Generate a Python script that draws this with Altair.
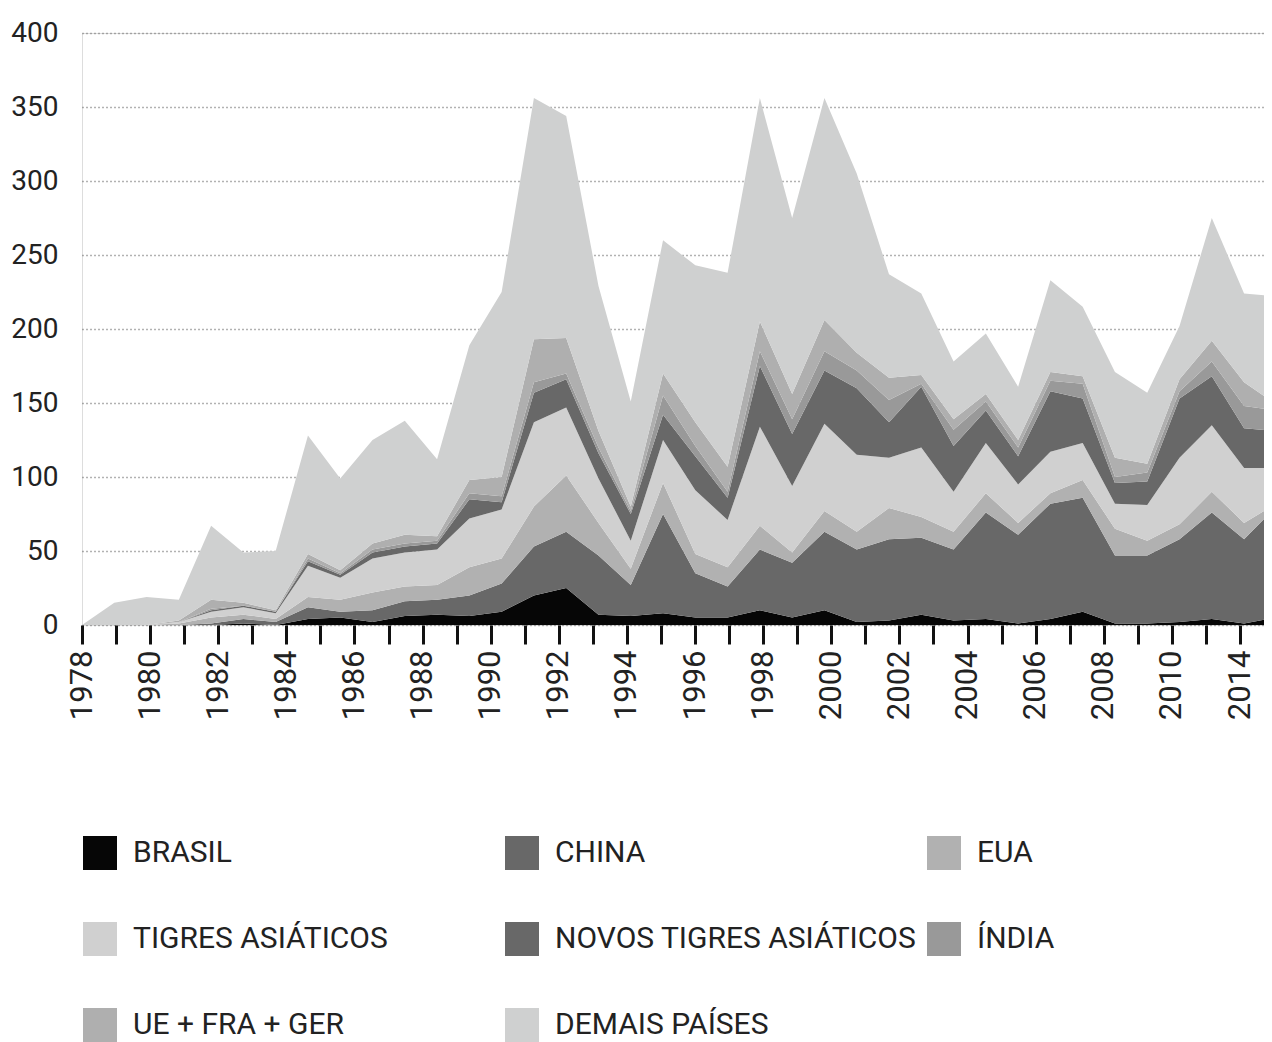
import altair as alt
import pandas as pd

years = list(range(1978, 2016))

series_names = ["BRASIL", "CHINA", "EUA", "TIGRES ASIÁTICOS",
                "NOVOS TIGRES ASIÁTICOS", "ÍNDIA", "UE + FRA + GER", "DEMAIS PAÍSES"]
series_colors = ["#060606", "#686868", "#b1b1b1", "#d0d0d0",
                 "#686868", "#999999", "#afafaf", "#cfd0d0"]

brasil = [0, 0, 0, 0, 0, 1, 0, 4, 5, 2, 6, 7, 6, 9, 20, 25, 7, 6, 8, 5, 5, 10, 5, 10,
          2, 3, 7, 3, 4, 1, 4, 9, 1, 1, 2, 4, 1, 5]
china = [0, 0, 0, 0, 1, 3, 2, 8, 4, 8, 10, 10, 14, 19, 33, 38, 40, 21, 67, 30, 21, 41, 37, 53,
         49, 55, 52, 48, 72, 60, 78, 77, 46, 46, 56, 72, 57, 75]
eua = [0, 0, 0, 1, 4, 3, 2, 7, 8, 12, 10, 10, 19, 17, 27, 38, 22, 11, 21, 13, 13, 16, 7, 14,
       12, 21, 14, 12, 13, 8, 7, 12, 18, 10, 10, 14, 11, 2]
tigres = [0, 0, 0, 1, 4, 5, 4, 21, 15, 23, 23, 24, 33, 33, 57, 46, 30, 19, 29, 43, 32, 67, 45, 59,
          52, 34, 47, 27, 34, 26, 28, 25, 17, 24, 45, 45, 37, 24]
novos_tigres = [0, 0, 0, 0, 1, 1, 1, 3, 2, 4, 4, 4, 13, 5, 20, 19, 17, 18, 17, 23, 15, 41, 35, 36,
                45, 24, 41, 31, 22, 19, 41, 30, 14, 16, 40, 33, 27, 25]
india = [0, 0, 0, 0, 1, 0, 0, 2, 1, 2, 2, 2, 4, 4, 7, 4, 4, 2, 13, 7, 4, 10, 10, 13,
         12, 15, 2, 11, 6, 6, 7, 10, 4, 6, 5, 10, 15, 14]
ue_fra_ger = [0, 0, 0, 1, 6, 2, 1, 3, 2, 4, 6, 3, 9, 13, 29, 24, 11, 3, 15, 16, 17, 20, 17, 21,
              12, 15, 6, 7, 5, 5, 6, 5, 13, 6, 8, 14, 16, 4]
demais = [0, 15, 19, 14, 50, 34, 40, 80, 62, 70, 77, 52, 91, 125, 163, 150, 98, 71, 90, 106, 131, 151, 119, 150,
          121, 70, 55, 39, 41, 36, 62, 47, 58, 48, 36, 83, 60, 73]

series_values = [brasil, china, eua, tigres, novos_tigres, india, ue_fra_ger, demais]

# printed axis labels (one tick per position, label on every other one)
tick_labels = ["1978", "", "1980", "", "1982", "", "1984", "", "1986", "", "1988", "",
               "1990", "", "1992", "", "1994", "", "1996", "", "1998", "", "2000", "",
               "2002", "", "2004", "", "2006", "", "2008", "", "2010", "", "2014"]
y_ticks = [0, 50, 100, 150, 200, 250, 300, 350, 400]

rows = []
for s_i, (name, vals) in enumerate(zip(series_names, series_values)):
    for yr, v in zip(years, vals):
        rows.append({"ano": yr, "serie": name, "ord": s_i, "valor": v})
df = pd.DataFrame(rows)
tick_df = pd.DataFrame({"k": list(range(len(tick_labels)))})

W, H = 1182, 592
TEXT = "#222222"
FONT = "Roboto"

label_expr = "[" + ",".join("'%s'" % t for t in tick_labels) + "][datum.value]"

axis_layer = alt.Chart(tick_df).mark_rule(opacity=0).encode(
    x=alt.X("k:Q",
            scale=alt.Scale(domain=[0, W * 34 / 1158], nice=False, zero=False),
            axis=alt.Axis(values=list(range(len(tick_labels))), labelExpr=label_expr,
                          labelAngle=270, tickSize=19, tickWidth=3, tickColor="#111111",
                          domain=False, grid=False, labelFontSize=31, labelFont=FONT,
                          labelColor=TEXT, labelPadding=6, title=None,
                          labelOverlap=False, labelFlush=False, labelBound=False))
)

area = alt.Chart(df).mark_area(clip=True).encode(
    x=alt.X("ano:Q",
            scale=alt.Scale(domain=[1978, 1978 + W / 32.28], nice=False, zero=False),
            axis=None),
    y=alt.Y("valor:Q", stack="zero",
            scale=alt.Scale(domain=[0, 400], nice=False),
            axis=alt.Axis(values=y_ticks, grid=True, gridDash=[1, 3], gridColor="#666666",
                          gridWidth=1.3, domain=False, ticks=False, labelFontSize=28,
                          labelFont=FONT, labelColor=TEXT, labelPadding=24, title=None)),
    color=alt.Color("serie:N",
                    scale=alt.Scale(domain=series_names, range=series_colors),
                    legend=alt.Legend(title=None, orient="none", legendX=1, legendY=803,
                                      direction="horizontal", columns=3,
                                      symbolType="square", symbolSize=1156,
                                      symbolStrokeWidth=0, labelFontSize=30,
                                      labelFont=FONT, labelColor=TEXT, labelOffset=16,
                                      rowPadding=52, columnPadding=10, gridAlign="all",
                                      labelBaseline="middle", padding=0, labelLimit=600)),
    order=alt.Order("ord:Q"),
)

chart = alt.layer(axis_layer, area).resolve_scale(x="independent").properties(
    width=W, height=H,
    autosize=alt.AutoSizeParams(type="none"),
    padding={"left": 74, "top": 25, "right": 0, "bottom": 430},
).configure_view(stroke=None).configure(font=FONT)

chart.save("out.html", embed_options={"renderer": "svg", "actions": False})
